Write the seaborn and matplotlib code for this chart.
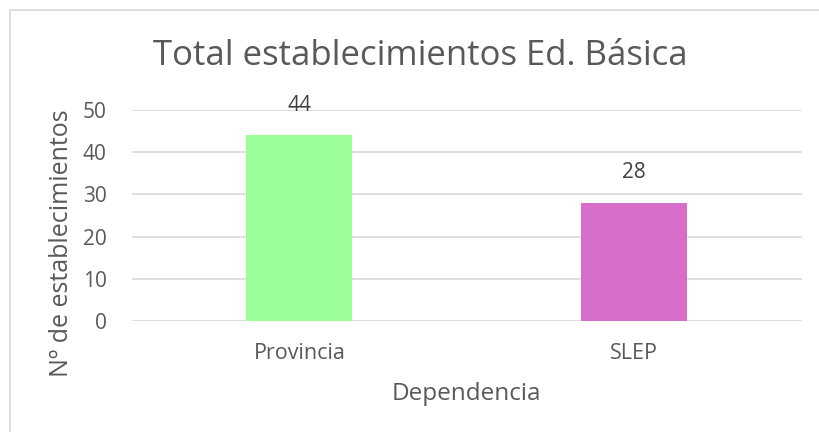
import pandas as pd
import matplotlib.pyplot as plt
import seaborn as sns
from matplotlib.patches import Rectangle

# data
dependencia = ["Provincia", "SLEP"]
establecimientos = [44, 28]
colores = ["#9AFF98", "#D66DC9"]

df = pd.DataFrame({"Dependencia": dependencia, "Total": establecimientos})

sns.set_style("white")
plt.rcParams["font.family"] = ["Open Sans", "DejaVu Sans"]
TXT = "#595959"

fig = plt.figure(figsize=(8.19, 4.32), dpi=100)
ax = fig.add_axes([0.161, 0.257, 0.818, 0.488])

sns.barplot(data=df, x="Dependencia", y="Total", hue="Dependencia",
            palette=colores, width=0.316, saturation=1, linewidth=0,
            legend=False, ax=ax, zorder=3)

ax.set_ylim(0, 50)
ax.set_yticks(range(0, 51, 10))
ax.grid(axis="y", color="#D9D9D9", linewidth=1.2, zorder=0)
ax.set_axisbelow(True)
sns.despine(ax=ax, left=True, bottom=True, top=True, right=True)
ax.tick_params(axis="y", length=0, labelsize=15, colors=TXT, pad=18)
ax.tick_params(axis="x", length=0, labelsize=15.5, colors=TXT, pad=16)

for cont in ax.containers:
    ax.bar_label(cont, fmt="%d", padding=14, fontsize=15, color="#404040")

ax.set_xlabel("Dependencia", fontsize=17.5, color=TXT, labelpad=13)
ax.set_ylabel("Nº de establecimientos", fontsize=18, color=TXT)
# label sits lower than the plot centre, as in the original
ax.yaxis.set_label_coords(-0.087, 0.37)

fig.text(0.513, 0.870, "Total establecimientos Ed. Básica", ha="center",
         va="center", fontsize=25, color=TXT)

fig.patches.append(Rectangle((10 / 819, -0.1), 1.2, 1 - 10 / 432 + 0.1,
                             transform=fig.transFigure, fill=False,
                             edgecolor="#D9D9D9", linewidth=1.2))

fig.savefig("out.png", dpi=100)
